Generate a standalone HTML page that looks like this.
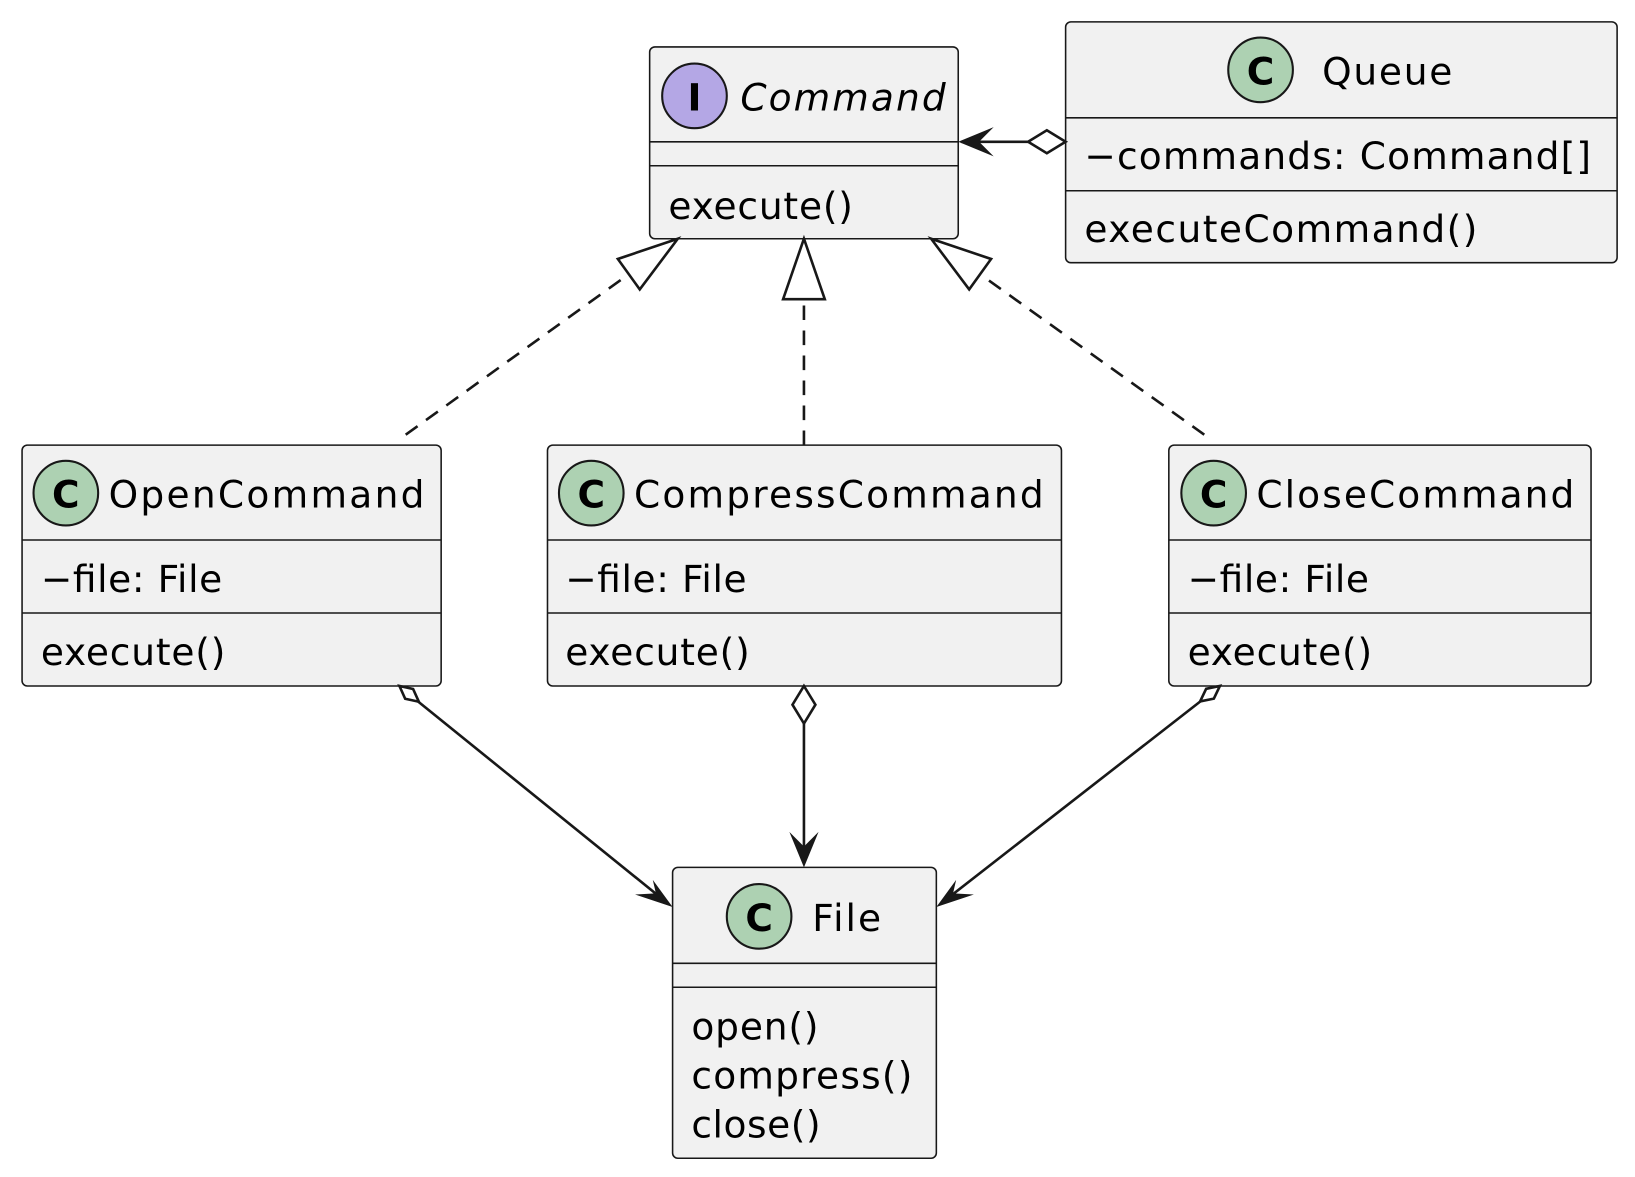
<!DOCTYPE html>
<html><head><meta charset="utf-8"><style>
html,body{margin:0;padding:0;background:#fff;}
svg{display:block;}
text{font-family:"DejaVu Sans","Liberation Sans",sans-serif;font-size:36px;fill:#000;}
</style></head><body>
<svg width="1635" height="1177" viewBox="0 0 1568 1129" xmlns="http://www.w3.org/2000/svg">
<g stroke="#181818" stroke-width="1.5" fill="#F1F1F1">
<rect x="623" y="45" width="296" height="184" rx="5"/>
<rect x="1022" y="21" width="529" height="231" rx="5"/>
<rect x="21" y="427" width="402" height="231" rx="5"/>
<rect x="525" y="427" width="493" height="231" rx="5"/>
<rect x="1121" y="427" width="405" height="231" rx="5"/>
<rect x="645" y="832" width="253" height="279" rx="5"/>
</g>
<g stroke="#181818" stroke-width="1.5">
<line x1="623" y1="136" x2="919" y2="136"/><line x1="623" y1="159" x2="919" y2="159"/>
<line x1="1022" y1="113" x2="1551" y2="113"/><line x1="1022" y1="183" x2="1551" y2="183"/>
<line x1="21" y1="518" x2="423" y2="518"/><line x1="21" y1="588" x2="423" y2="588"/>
<line x1="525" y1="518" x2="1018" y2="518"/><line x1="525" y1="588" x2="1018" y2="588"/>
<line x1="1121" y1="518" x2="1526" y2="518"/><line x1="1121" y1="588" x2="1526" y2="588"/>
<line x1="645" y1="924" x2="898" y2="924"/><line x1="645" y1="947" x2="898" y2="947"/>
</g>
<g stroke="#181818" stroke-width="2">
<circle cx="666" cy="92" r="31" fill="#B4A7E5"/>
<circle cx="1209" cy="67" r="31" fill="#ADD1B2"/>
<circle cx="63" cy="473" r="31" fill="#ADD1B2"/>
<circle cx="567" cy="473" r="31" fill="#ADD1B2"/>
<circle cx="1164" cy="473" r="31" fill="#ADD1B2"/>
<circle cx="728" cy="879" r="31" fill="#ADD1B2"/>
</g>
<g style="font-weight:bold;font-size:40px" text-anchor="middle">
<text x="666" y="106">I</text>
<text x="1209" y="81">C</text>
<text x="63" y="487">C</text>
<text x="567" y="487">C</text>
<text x="1164" y="487">C</text>
<text x="728" y="893">C</text>
</g>
<text x="710" y="106" font-style="italic" textLength="197">Command</text>
<text x="641" y="210" textLength="177">execute()</text>
<text x="1268" y="81" textLength="125">Queue</text>
<text x="1040" y="162" textLength="486">−commands: Command[]</text>
<text x="1040" y="232" textLength="377">executeCommand()</text>
<text x="104" y="487" textLength="303">OpenCommand</text>
<text x="39" y="568" textLength="174">−file: File</text>
<text x="39" y="638" textLength="177">execute()</text>
<text x="608" y="487" textLength="393">CompressCommand</text>
<text x="542" y="568" textLength="174">−file: File</text>
<text x="542" y="638" textLength="177">execute()</text>
<text x="1205" y="487" textLength="305">CloseCommand</text>
<text x="1139" y="568" textLength="174">−file: File</text>
<text x="1139" y="638" textLength="177">execute()</text>
<text x="779" y="893" textLength="66">File</text>
<text x="663" y="997" textLength="122">open()</text>
<text x="663" y="1044" textLength="212">compress()</text>
<text x="663" y="1091" textLength="124">close()</text>
<g stroke="#181818" stroke-width="2.5" fill="none">
<line x1="389" y1="417" x2="603" y2="263" stroke-dasharray="14,10"/>
<line x1="771" y1="427" x2="771" y2="287" stroke-dasharray="14,10"/>
<line x1="1155" y1="417" x2="940" y2="263" stroke-dasharray="14,10"/>
<polygon points="650,229 592.5,248.4 613.5,277.6"/>
<polygon points="771,229 751,287 791,287"/>
<polygon points="893,229 950.5,248.4 929.5,277.6"/>
<line x1="986" y1="136" x2="922" y2="136"/>
<line x1="401" y1="673" x2="641" y2="867"/>
<line x1="771" y1="694" x2="771" y2="828"/>
<line x1="1151" y1="673" x2="902" y2="867"/>
</g>
<g stroke="#181818" stroke-width="2.5" fill="#fff">
<polygon points="1022,136 1004,125 986,136 1004,147"/>
<polygon points="771,658 760,676 771,694 782,676"/>
<polygon points="383,658 388.5,670.3 401.6,673.1 396.1,660.9"/>
<polygon points="1170,658 1164.2,670.1 1151,672.8 1156.8,660.7"/>
</g>
<g fill="#181818">
<polygon points="919,136 953,122 939,136 953,150"/>
<polygon points="771,832 757,798 771,812 785,798"/>
<polygon points="645,870 609,858 629,857 626,844"/>
<polygon points="898,870 917,844 914,857 934,858"/>
</g>
</svg>
</body></html>
